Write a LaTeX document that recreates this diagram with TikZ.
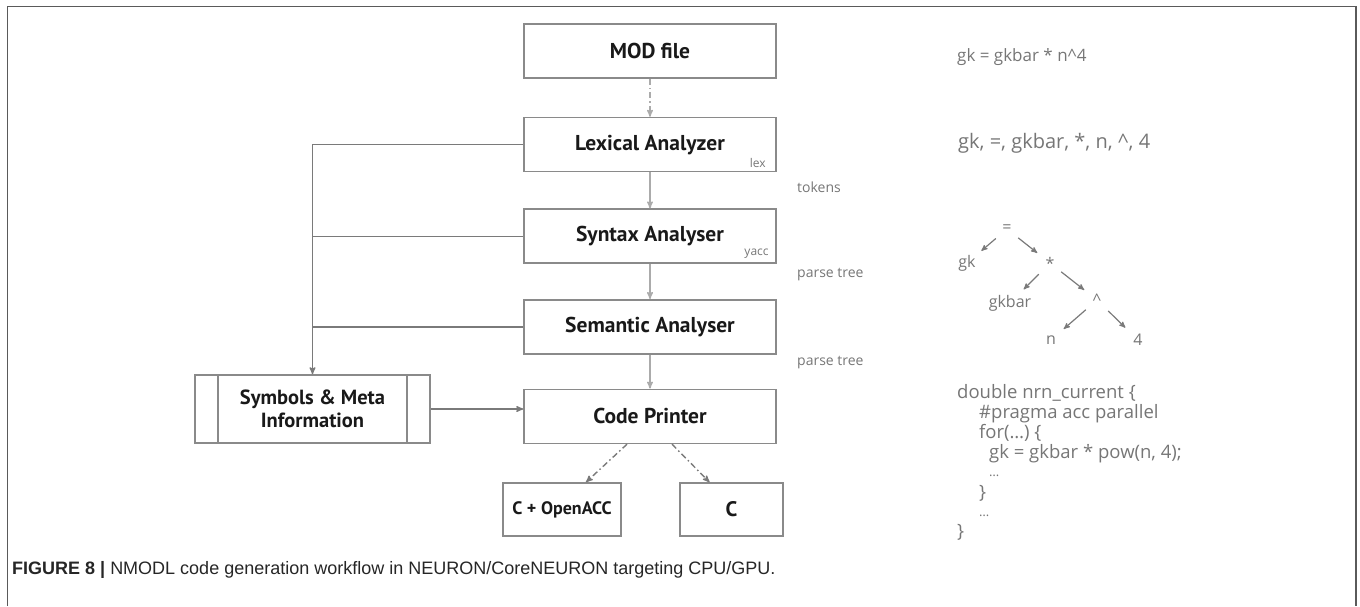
\documentclass[tikz,border=0pt]{standalone}
\usepackage{fontspec}
\usepackage{xcolor}
\usepackage{tikz}
\usetikzlibrary{arrows, positioning, calc}
\setsansfont{PT Sans}
\newfontfamily\notefont{Open Sans}
\newfontfamily\capfont{Liberation Sans}
\definecolor{boxgray}{HTML}{8A8A8A}
\definecolor{flowgray}{HTML}{ABABAB}
\definecolor{linkgray}{HTML}{7A7A7A}
\definecolor{notegray}{HTML}{767676}
\definecolor{framegray}{HTML}{5A5A5A}

\begin{document}
\begin{tikzpicture}[x=1pt,y=-1pt,>=stealth',node distance=36pt,
		stage node/.style={rectangle,draw=boxgray,line width=1.6pt,minimum width=252pt,minimum height=54pt,
			font=\sffamily\fontsize{21.5}{24}\selectfont\bfseries,text=black!90},
		out node/.style={rectangle,draw=boxgray,line width=1.6pt,minimum height=53pt,
			font=\sffamily\fontsize{18}{21}\selectfont\bfseries,text=black!90},
		tool label/.style={font=\notefont\fontsize{12}{14}\selectfont,text=notegray,inner sep=0pt},
		pass label/.style={font=\notefont\fontsize{14}{16}\selectfont,text=notegray,inner sep=0pt,anchor=west},
		side text/.style={font=\notefont\fontsize{17}{20}\selectfont,text=notegray,inner sep=0pt,anchor=west},
		code line/.style={font=\notefont\fontsize{18.5}{20}\selectfont,text=notegray,inner sep=0pt,anchor=base west},
		tree node/.style={font=\notefont\fontsize{16}{18}\selectfont,text=notegray,inner sep=4pt,minimum size=22pt},
		flow/.style={draw=flowgray,line width=1.4pt,->},
		link/.style={draw=linkgray,line width=1.4pt},
		gen/.style={draw=linkgray,line width=1.4pt,->,dash pattern=on 6pt off 3pt on 1.5pt off 3pt},
		tree edge/.style={draw=linkgray,line width=1.2pt,->,shorten >=2pt}]

	\useasboundingbox (0,0) rectangle (1360,606);
	\draw[framegray,line width=1.5pt] (7.5,606) -- (7.5,6.5) -- (1356,6.5) -- (1356,606);

	% compiler stages
	\node[stage node] (mod) at (650,51) {MOD file};
	\node[stage node] (lex) [below=38pt of mod] {Lexical Analyzer};
	\node[stage node] (syn) [below=36pt of lex] {Syntax Analyser};
	\node[stage node] (sem) [below=35pt of syn] {Semantic Analyser};
	\node[stage node] (code) [below=34pt of sem] {Code Printer};

	\node[tool label,anchor=south east] (lexlab) at ($(lex.south east)+(-11,-5)$) {lex};
	\node[tool label,anchor=south east] (yacclab) at ($(syn.south east)+(-8,-5)$) {yacc};

	\node[pass label] (tokens) at (797,187) {tokens};
	\node[pass label] (pt1) at (797,275) {parse tree};
	\node[pass label] (pt2) at (797,363) {parse tree};

	% symbol table
	\node[rectangle,draw=boxgray,line width=1.6pt,minimum width=235pt,minimum height=68pt,align=center,
		font=\sffamily\fontsize{20.5}{23}\selectfont\bfseries,text=black!90] (sym) at (312.5,409) {Symbols \& Meta\\Information};
	\draw[boxgray,line width=1.6pt] ($(sym.north west)+(24,0)$) -- ($(sym.south west)+(24,0)$);
	\draw[boxgray,line width=1.6pt] ($(sym.north east)+(-24,0)$) -- ($(sym.south east)+(-24,0)$);

	% targets
	\node[out node,minimum width=118pt] (acc) at (562,509.5) {C + OpenACC};
	\node[out node,minimum width=103pt,font=\sffamily\fontsize{21}{24}\selectfont\bfseries] (plainc) at (731.5,509.5) {C};

	\draw[flow,dash pattern=on 6pt off 3pt on 1.5pt off 3pt] (mod) -- (lex);
	\draw[flow] (lex) -- (syn);
	\draw[flow] (syn) -- (sem);
	\draw[flow] (sem) -- (code);

	\draw[link,->] (lex.west) -| (sym.north);
	\draw[link] (syn.west) -- (syn.west -| sym.north);
	\draw[link] (sem.west) -- (sem.west -| sym.north);
	\draw[link,->] (sym.east) -- (sym.east -| code.west);

	\draw[gen] ([xshift=-23pt]code.south) -- ([xshift=24pt]acc.north);
	\draw[gen] ([xshift=22pt]code.south) -- ([xshift=-22pt]plainc.north);

	% example on the right
	\node[side text] (expr) at (957,57) {gk = gkbar * n\^{}4};
	\node[side text,font=\notefont\fontsize{20}{23}\selectfont] (toks) at (958,143) {gk, =, gkbar, *, n, \^{}, 4};

	\node[tree node] (eq) at (1007,229) {=};
	\node[tree node] (gk) at (967,263) {gk};
	\node[tree node] (star) at (1050,263) {*};
	\node[tree node] (gkbar) at (1010,303) {gkbar};
	\node[tree node] (hat) at (1097,300) {\^{}};
	\node[tree node] (n) at (1051,340) {n};
	\node[tree node] (four) at (1138,340) {4};
	\draw[tree edge] (eq) -- (gk);
	\draw[tree edge] (eq) -- (star);
	\draw[tree edge] (star) -- (gkbar);
	\draw[tree edge] (star) -- (hat);
	\draw[tree edge] (hat) -- (n);
	\draw[tree edge] (hat) -- (four);

	\node[code line] (line1) at (957,398) {double nrn\_current \{};
	\node[code line] (line2) at (979,418) {\#pragma acc parallel};
	\node[code line] (line3) at (979,438) {for(…) \{};
	\node[code line] (line4) at (989,458) {gk = gkbar * pow(n, 4);};
	\node[code line,font=\notefont\fontsize{13}{15}\selectfont] (line5) at (989,476) {…};
	\node[code line] (line6) at (979,498) {\}};
	\node[code line,font=\notefont\fontsize{13}{15}\selectfont] (line7) at (979,516) {…};
	\node[code line] (line8) at (957,537) {\}};

	\node[anchor=base west,inner sep=0pt,font=\capfont\fontsize{18}{20}\selectfont,text=black!85] (caption) at (12,574)
		{\textbf{FIGURE 8 |} NMODL code generation workflow in NEURON/CoreNEURON targeting CPU/GPU.};
\end{tikzpicture}
\end{document}
